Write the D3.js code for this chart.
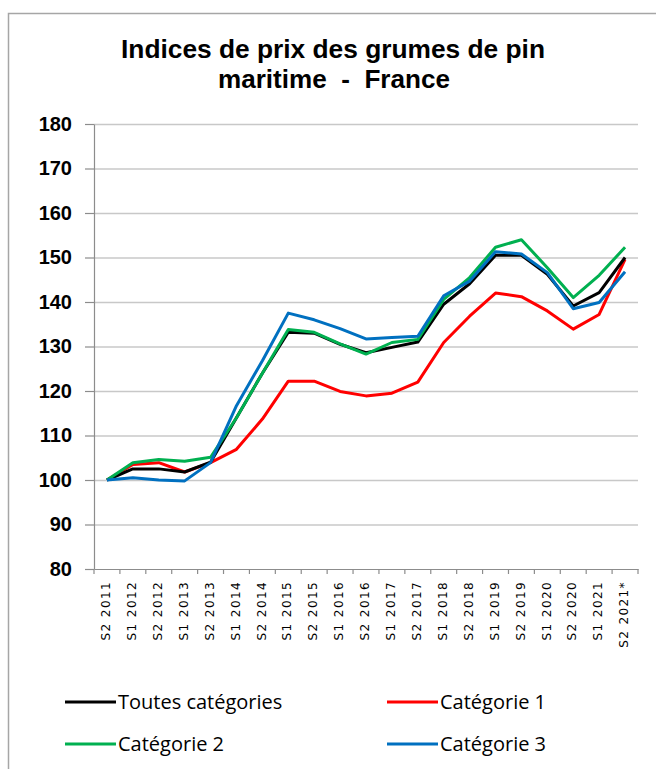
<!DOCTYPE html>
<html>
<head>
<meta charset="utf-8">
<script src="https://cdn.jsdelivr.net/npm/d3@7"></script>
<style>
  body { margin: 0; background: #fff; }
  svg { display: block; }
  .ylab text { font-family: "Liberation Sans", Arial, sans-serif; font-weight: bold; font-size: 20px; fill: #000; }
  .xlab text { font-family: "DejaVu Sans", sans-serif; font-size: 12px; letter-spacing: 1.4px; fill: #000; }
  .legend text { font-family: "Open Sans", "Liberation Sans", sans-serif; font-size: 20px; fill: #000; }
</style>
</head>
<body>
<div id="chart"></div>
<script>
var w = 656;
var h = 769;

// semesters on the x axis
var periods = ["S2 2011", "S1 2012", "S2 2012", "S1 2013", "S2 2013", "S1 2014", "S2 2014",
  "S1 2015", "S2 2015", "S1 2016", "S2 2016", "S1 2017", "S2 2017", "S1 2018", "S2 2018",
  "S1 2019", "S2 2019", "S1 2020", "S2 2020", "S1 2021", "S2 2021*"];

// index values
var toutes = [100, 102.5, 102.5, 101.8, 104, 114, 124, 133.2, 133, 130.5, 128.6, 129.8,
  131, 139.5, 144.1, 150.5, 150.5, 146.2, 139.1, 142.1, 150];
var cat1 = [100, 103.5, 103.9, 101.8, 103.9, 106.9, 113.7, 122.2, 122.2, 119.9, 118.9, 119.5,
  122, 130.9, 136.8, 142, 141.2, 138, 133.9, 137.2, 149.6];
var cat2 = [100, 103.9, 104.6, 104.2, 105.1, 114, 124, 133.8, 133.2, 130.6, 128.3, 130.9,
  131.6, 140.6, 145.5, 152.3, 154, 147.7, 141, 146, 152.3];
var cat3 = [100, 100.5, 100, 99.8, 103.9, 116.7, 126.8, 137.5, 136, 134, 131.7, 132,
  132.3, 141.4, 144.7, 151.3, 150.8, 146.6, 138.5, 139.9, 146.8];

var yTicks = [80, 90, 100, 110, 120, 130, 140, 150, 160, 170, 180];

var series = [
  { name: "Toutes catégories", values: toutes, color: "#000000" },
  { name: "Catégorie 1", values: cat1, color: "#ff0000" },
  { name: "Catégorie 2", values: cat2, color: "#00b050" },
  { name: "Catégorie 3", values: cat3, color: "#0070c0" }
];
// draw order: red/black under, green/blue above like the original
var drawOrder = [1, 0, 2, 3];

var plotLeft = 94, plotRight = 638, plotTop = 124, plotBottom = 569;

var svg = d3.select("#chart").append("svg")
  .attr("width", w)
  .attr("height", h);

// outer frame (cut off at right and bottom in the original)
svg.append("rect")
  .attr("x", 8.5).attr("y", 13.5)
  .attr("width", 700).attr("height", 800)
  .attr("fill", "none")
  .attr("stroke", "#a6a6a6")
  .attr("stroke-width", 1.5);

// title - narrow bold, squeezed to the original width
var title = svg.append("g").attr("font-family", "Liberation Sans, Arial, sans-serif")
  .attr("font-weight", "bold").attr("font-size", 25).attr("text-anchor", "middle");
title.append("text").attr("x", 333).attr("y", 58)
  .attr("textLength", 424).attr("lengthAdjust", "spacingAndGlyphs")
  .text("Indices de prix des grumes de pin");
title.append("text").attr("x", 334).attr("y", 88)
  .attr("textLength", 232).attr("lengthAdjust", "spacingAndGlyphs")
  .text("maritime\u00a0\u00a0-\u00a0\u00a0France");

var x = d3.scaleBand().domain(periods).range([plotLeft, plotRight]).padding(0);
var y = d3.scaleLinear().domain([80, 180]).range([plotBottom, plotTop]);

// gridlines
svg.append("g")
  .attr("transform", "translate(" + plotLeft + ",0)")
  .call(d3.axisLeft(y).tickValues(yTicks).tickSize(-(plotRight - plotLeft)).tickFormat(""))
  .call(function (g) {
    g.select(".domain").remove();
    g.selectAll(".tick line").attr("stroke", "#c8c8c8").attr("stroke-width", 1.5);
    g.selectAll(".tick").filter(function (d) { return d === 80; }).remove();
  });

// y axis
svg.append("g").attr("class", "ylab")
  .attr("transform", "translate(" + plotLeft + ",0)")
  .call(d3.axisLeft(y).tickValues(yTicks).tickSize(9).tickPadding(13).tickSizeOuter(0))
  .call(function (g) {
    g.select(".domain").attr("stroke", "#8c8c8c").attr("stroke-width", 1.2);
    g.selectAll(".tick line").attr("stroke", "#8c8c8c").attr("stroke-width", 1.2);
  });

// x axis
var xAxis = svg.append("g").attr("class", "xlab")
  .attr("transform", "translate(0," + plotBottom + ")")
  .call(d3.axisBottom(x).tickSize(0).tickSizeOuter(0));
xAxis.select(".domain").attr("stroke", "#8c8c8c").attr("stroke-width", 1.2);
xAxis.selectAll(".tick text")
  .attr("transform", "rotate(-90)")
  .attr("text-anchor", "end")
  .attr("x", -12).attr("y", -1).attr("dy", "0.35em");

// tick marks between categories
var bounds = periods.map(function (p) { return x(p); }).concat([plotRight]);
svg.append("g").selectAll("line")
  .data(bounds).enter().append("line")
  .attr("x1", function (d) { return d; })
  .attr("x2", function (d) { return d; })
  .attr("y1", plotBottom).attr("y2", plotBottom + 5)
  .attr("stroke", "#8c8c8c").attr("stroke-width", 1.2);

// lines
var line = d3.line()
  .x(function (d, i) { return x(periods[i]) + x.bandwidth() / 2; })
  .y(function (d) { return y(d); });

svg.append("g").selectAll("path")
  .data(drawOrder.map(function (i) { return series[i]; }))
  .enter().append("path")
  .attr("d", function (s) { return line(s.values); })
  .attr("fill", "none")
  .attr("stroke", function (s) { return s.color; })
  .attr("stroke-width", 3)
  .attr("stroke-linejoin", "round");

// legend
var legPos = [[65, 702], [387, 702], [65, 744], [387, 744]];
var leg = svg.append("g").attr("class", "legend").selectAll("g")
  .data(series).enter().append("g")
  .attr("transform", function (d, i) { return "translate(" + legPos[i][0] + "," + legPos[i][1] + ")"; });
leg.append("line")
  .attr("x1", 0).attr("x2", 51).attr("y1", 0).attr("y2", 0)
  .attr("stroke", function (d) { return d.color; })
  .attr("stroke-width", 3);
leg.append("text")
  .attr("x", 53).attr("y", 0).attr("dy", "0.35em")
  .text(function (d) { return d.name; });
</script>
</body>
</html>
